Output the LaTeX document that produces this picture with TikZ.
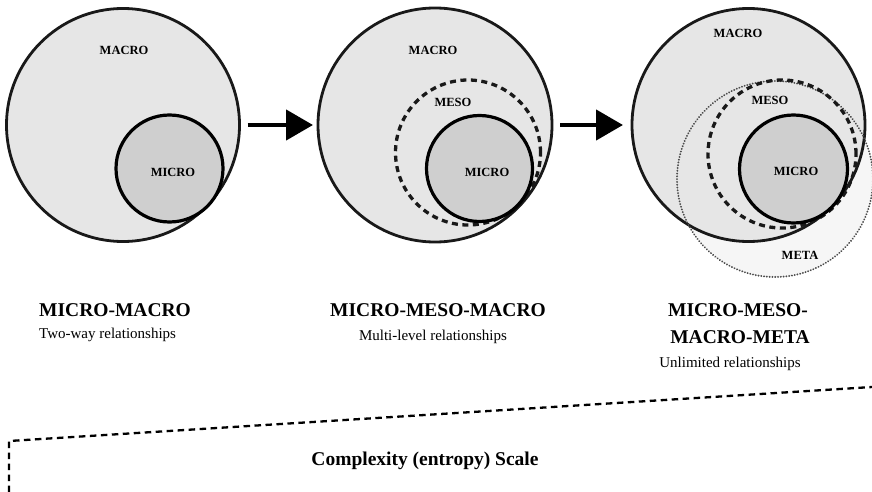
\documentclass[tikz,border=0pt]{standalone}
\usepackage{fontspec}
\setmainfont{Liberation Serif}
\usetikzlibrary{arrows.meta}
\definecolor{macrofill}{HTML}{E6E6E6}
\definecolor{microfill}{HTML}{CFCFCF}
\definecolor{metafill}{HTML}{F6F6F6}
\tikzset{
  ring/.style={circle, inner sep=0pt, outer sep=0pt, minimum size=#1},
  macro/.style={ring=#1, draw=black!90, line width=2.8pt, fill=macrofill},
  micro/.style={ring=#1, draw=black, line width=3.2pt, fill=microfill},
  meso/.style={ring=#1, draw=black!90, line width=3.3pt, dash pattern=on 6pt off 4.5pt},
  meta/.style={ring=#1, draw=black!70, line width=2pt, line cap=round, dash pattern=on 0.1pt off 2.7pt},
  metabg/.style={ring=#1, fill=metafill},
  inlabel/.style={font=\fontsize{12.5}{14}\selectfont\bfseries, inner sep=0pt},
  title/.style={font=\fontsize{19.5}{22}\selectfont\bfseries, inner sep=0pt, anchor=base},
  subtitle/.style={font=\fontsize{15}{18}\selectfont, inner sep=0pt, anchor=base},
  bigarrow/.style={line width=4.5pt, -{Triangle[length=27pt,width=30pt]}},
  scaleline/.style={line width=2.3pt, dash pattern=on 6.5pt off 4.5pt},
}
\begin{document}
\begin{tikzpicture}[x=1pt,y=-1pt]
\useasboundingbox (0,0) rectangle (872,492);
% ---- stage 1
\node[macro=233pt] (mac1) at (123,125) {};
\node[micro=107pt] (mic1) at (169.5,168.5) {};
\node[inlabel] (lmac1) at (124,50) {MACRO};
\node[inlabel] (lmic1) at (173,172) {MICRO};
% ---- stage 2
\node[macro=234pt] (mac2) at (435,125) {};
\node[meso=145pt] (mes2) at (468,152.5) {};
\node[micro=106pt] (mic2) at (479.5,168.5) {};
\node[inlabel] (lmac2) at (433,50) {MACRO};
\node[inlabel] (lmes2) at (453,102) {MESO};
\node[inlabel] (lmic2) at (487,172) {MICRO};
% ---- stage 3
\node[metabg=196pt] (metb3) at (775,179) {};
\node[macro=233pt] (mac3) at (748.5,125) {};
\node[meta=196pt] (met3) at (775,179) {};
\node[meso=148pt] (mes3) at (782,154) {};
\node[micro=108pt] (mic3) at (793.5,169) {};
\node[inlabel] (lmac3) at (738,33) {MACRO};
\node[inlabel] (lmes3) at (770,100) {MESO};
\node[inlabel] (lmic3) at (796,171) {MICRO};
\node[inlabel] (lmet3) at (800,255) {META};
% ---- arrows
\draw[bigarrow, shorten <=8pt, shorten >=5pt] (mac1.east) -- (mac2.west);
\draw[bigarrow, shorten <=8pt, shorten >=9pt] (mac2.east) -- (mac3.west);
% ---- titles
\node[title, anchor=base west] (t1) at (39,316) {MICRO-MACRO};
\node[subtitle, anchor=base west] (s1) at (39,338) {Two-way relationships};
\node[title] (t2) at (438,316) {MICRO-MESO-MACRO};
\node[subtitle] (s2) at (433,340) {Multi-level relationships};
\node[title] (t3a) at (738,316) {MICRO-MESO-};
\node[title] (t3b) at (740,343) {MACRO-META};
\node[subtitle] (s3) at (730,367) {Unlimited relationships};
% ---- complexity scale
\coordinate (sb) at (9,492);
\coordinate (sc) at (9,441);
\coordinate (se) at (872,387);
\draw[scaleline] (sb) -- (sc) -- (se);
\node[title] (scl) at (425,465) {Complexity (entropy) Scale};
\end{tikzpicture}
\end{document}
